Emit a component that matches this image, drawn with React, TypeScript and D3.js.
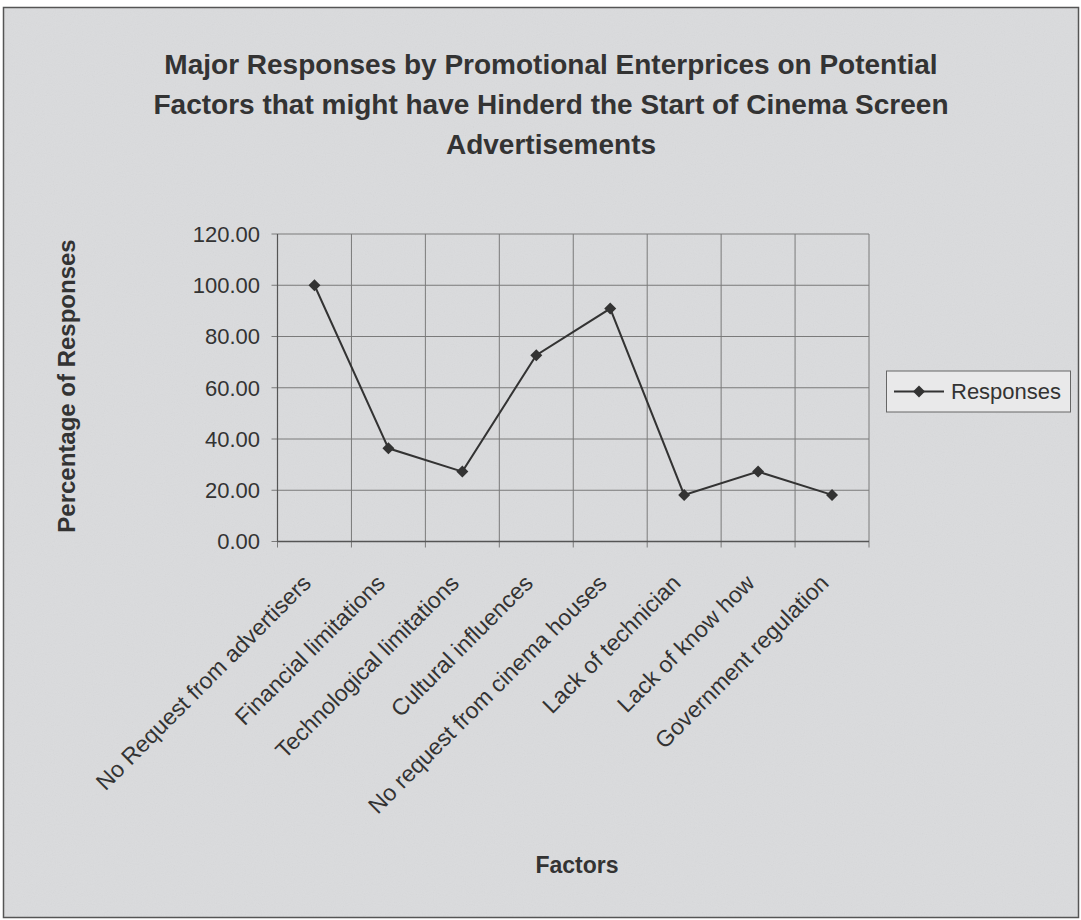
import React from "react";
import * as d3 from "d3";

const categories = [
  "No Request from advertisers",
  "Financial limitations",
  "Technological limitations",
  "Cultural influences",
  "No request from cinema houses",
  "Lack of technician",
  "Lack of know how",
  "Government regulation",
];
const responses = [100.0, 36.36, 27.27, 72.73, 90.91, 18.18, 27.27, 18.18];
const yTicks = [0, 20, 40, 60, 80, 100, 120];
const titleLines = [
  "Major Responses by Promotional Enterprices on Potential",
  "Factors that might have Hinderd the Start of Cinema Screen",
  "Advertisements",
];
const seriesName = "Responses";

const W = 1081;
const H = 920;
const plot = { left: 277.5, right: 869, top: 234, bottom: 541.5 };
const font = "'Liberation Sans', Arial, sans-serif";
const ink = "#333333";

export default function App() {
  const x = d3
    .scaleBand<string>()
    .domain(categories)
    .range([plot.left, plot.right])
    .padding(0);
  const y = d3.scaleLinear().domain([0, 120]).range([plot.bottom, plot.top]);
  const line = d3
    .line<number>()
    .x((_, i) => (x(categories[i]) as number) + x.bandwidth() / 2)
    .y((d) => y(d));
  const diamond = (cx: number, cy: number, r: number) =>
    `M${cx},${cy - r}L${cx + r},${cy}L${cx},${cy + r}L${cx - r},${cy}Z`;

  const boundaries = categories.map((c) => x(c) as number).concat([plot.right]);

  return (
    <svg
      width={W}
      height={H}
      style={{ position: "absolute", left: 0, top: 0, display: "block" }}
      fontFamily={font}
    >
      <defs>
        <filter id="grain" x="0" y="0" width="100%" height="100%">
          <feTurbulence type="fractalNoise" baseFrequency="0.9" numOctaves="2" seed="3" />
          <feColorMatrix type="saturate" values="0" />
          <feComponentTransfer>
            <feFuncA type="table" tableValues="0 0.08" />
          </feComponentTransfer>
        </filter>
      </defs>
      <rect x={0} y={0} width={W} height={H} fill="#ffffff" />
      <rect x={3.5} y={7.5} width={W - 6} height={H - 10} fill="#dadbdd" stroke="#555" strokeWidth={1.5} />
      <rect x={4} y={8} width={W - 7} height={H - 11} filter="url(#grain)" />

      {titleLines.map((t, i) => (
        <text
          key={i}
          x={551}
          y={74 + i * 40}
          textAnchor="middle"
          fontSize={28}
          fontWeight="bold"
          fill={ink}
        >
          {t}
        </text>
      ))}

      {/* horizontal gridlines */}
      {yTicks.map((t) => (
        <g key={t}>
          <line x1={plot.left - 6} x2={plot.right} y1={y(t)} y2={y(t)} stroke="#7a7a7a" strokeWidth={1} />
          <text x={260} y={y(t)} dy="0.36em" textAnchor="end" fontSize={22} fill={ink}>
            {t.toFixed(2)}
          </text>
        </g>
      ))}
      {/* vertical gridlines */}
      {boundaries.map((b, i) => (
        <line key={i} x1={b} x2={b} y1={plot.top} y2={plot.bottom + 6} stroke="#7a7a7a" strokeWidth={1} />
      ))}
      <line x1={plot.left} x2={plot.right} y1={plot.bottom} y2={plot.bottom} stroke="#555" strokeWidth={1.5} />
      <line x1={plot.left} x2={plot.left} y1={plot.top} y2={plot.bottom} stroke="#555" strokeWidth={1.2} />

      <path d={line(responses) || ""} fill="none" stroke={ink} strokeWidth={2} />
      {responses.map((v, i) => (
        <path
          key={i}
          d={diamond((x(categories[i]) as number) + x.bandwidth() / 2, y(v), 6)}
          fill={ink}
        />
      ))}

      {categories.map((c) => {
        const cx = (x(c) as number) + x.bandwidth() / 2;
        return (
          <text
            key={c}
            transform={`translate(${cx - 2},${plot.bottom + 43}) rotate(-45)`}
            textAnchor="end"
            fontSize={23}
            fill={ink}
          >
            {c}
          </text>
        );
      })}

      <text
        transform={`translate(75,386) rotate(-90)`}
        textAnchor="middle"
        fontSize={24}
        fontWeight="bold"
        fill={ink}
      >
        Percentage of Responses
      </text>
      <text x={577} y={873} textAnchor="middle" fontSize={23} fontWeight="bold" fill={ink}>
        Factors
      </text>

      {/* legend */}
      <rect x={886.5} y={371} width={184} height={41} fill="#e9e9ea" stroke="#666" strokeWidth={1} />
      <line x1={894} x2={944} y1={391.5} y2={391.5} stroke={ink} strokeWidth={2} />
      <path d={diamond(919, 391.5, 6)} fill={ink} />
      <text x={951} y={391.5} dy="0.36em" fontSize={22} fill={ink}>
        {seriesName}
      </text>
    </svg>
  );
}
